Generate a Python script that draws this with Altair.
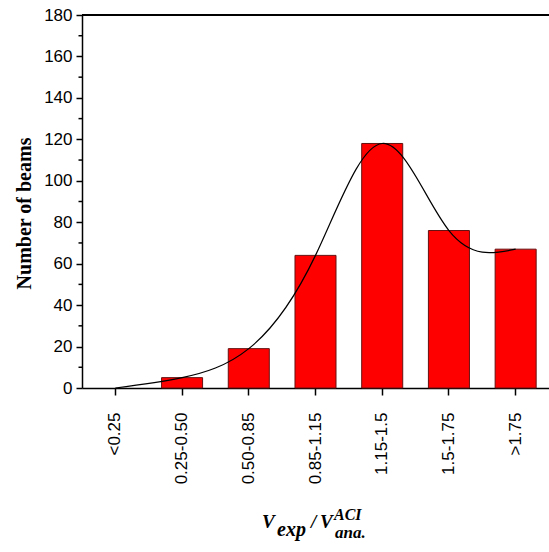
import altair as alt
import pandas as pd

# Distribution of V_exp / V_ana (ACI) ratios
categories = ["<0.25", "0.25-0.50", "0.50-0.85", "0.85-1.15", "1.15-1.5", "1.5-1.75", ">1.75"]
counts = [0, 5, 19, 64, 118, 76, 67]
y_major = list(range(0, 181, 20))
y_minor = list(range(10, 180, 20))

W, H = 467, 373

df = pd.DataFrame({"range": categories, "beams": counts})
minor_df = pd.DataFrame({"v": y_minor})

x_scale = alt.Scale(domain=categories, paddingInner=0.385, paddingOuter=0.1925)
y_scale = alt.Scale(domain=[0, 180], nice=False)

x_enc = alt.X(
    "range:N",
    sort=categories,
    scale=x_scale,
    title=None,
    axis=alt.Axis(
        labelAngle=270,
        labelFont="Liberation Sans",
        labelFontSize=17,
        labelColor="black",
        labelPadding=17,
        tickSize=7,
        tickColor="black",
        tickWidth=1.5,
        domainColor="black",
        domainWidth=1.5,
    ),
)
y_enc = alt.Y(
    "beams:Q",
    scale=y_scale,
    title="Number of beams",
    axis=alt.Axis(
        values=y_major,
        grid=False,
        labelFont="Liberation Sans",
        labelFontSize=17,
        labelColor="black",
        labelPadding=4,
        tickSize=6,
        tickColor="black",
        tickWidth=1.5,
        domainColor="black",
        domainWidth=1.5,
        titleFont="Liberation Serif",
        titleFontSize=20,
        titleFontWeight="bold",
        titleColor="black",
        titleAngle=270,
        titleAlign="center",
        titleBaseline="alphabetic",
        titleX=-52,
        titleY=198,
    ),
)

# empty bins draw no bar
bars = alt.Chart(df).transform_filter("datum.beams > 0").mark_bar(
    color="#ff0000", stroke="#661111", strokeWidth=1
).encode(x=x_enc, y=y_enc)

curve = alt.Chart(df).mark_line(
    color="black", strokeWidth=1.2, interpolate="natural"
).encode(x=alt.X("range:N", sort=categories, scale=x_scale), y=alt.Y("beams:Q", scale=y_scale))

minor_ticks = alt.Chart(minor_df).mark_rule(color="black", strokeWidth=1.5).encode(
    y=alt.Y("v:Q", scale=y_scale),
    x=alt.value(-3.5),
    x2=alt.value(0),
)

top_border = alt.Chart(minor_df).mark_rule(color="black", strokeWidth=1.5).encode(
    x=alt.value(0), x2=alt.value(W), y=alt.value(0)
)


def label(text, x, y, size):
    return alt.Chart(pd.DataFrame({"t": [text]})).mark_text(
        font="Liberation Serif",
        fontSize=size,
        fontWeight="bold",
        fontStyle="italic",
        align="left",
        baseline="alphabetic",
        color="black",
    ).encode(text="t:N", x=alt.value(x), y=alt.value(y))


x_title = (
    label("V", 180, 513, 19)
    + label("exp", 195, 521, 20)
    + label("/", 229, 513, 19)
    + label("V", 238, 513, 19)
    + label("ACI", 252, 505, 16)
    + label("ana.", 253, 523, 17)
)

chart = (
    alt.layer(bars, curve, minor_ticks, top_border, x_title)
    .properties(
        width=W,
        height=H,
        autosize=alt.AutoSizeParams(type="none"),
        padding={"left": 82, "top": 15, "right": 0, "bottom": 164},
        background="white",
    )
    .configure_view(stroke=None)
)

chart.save("out.html", embed_options={"renderer": "svg", "actions": False})
